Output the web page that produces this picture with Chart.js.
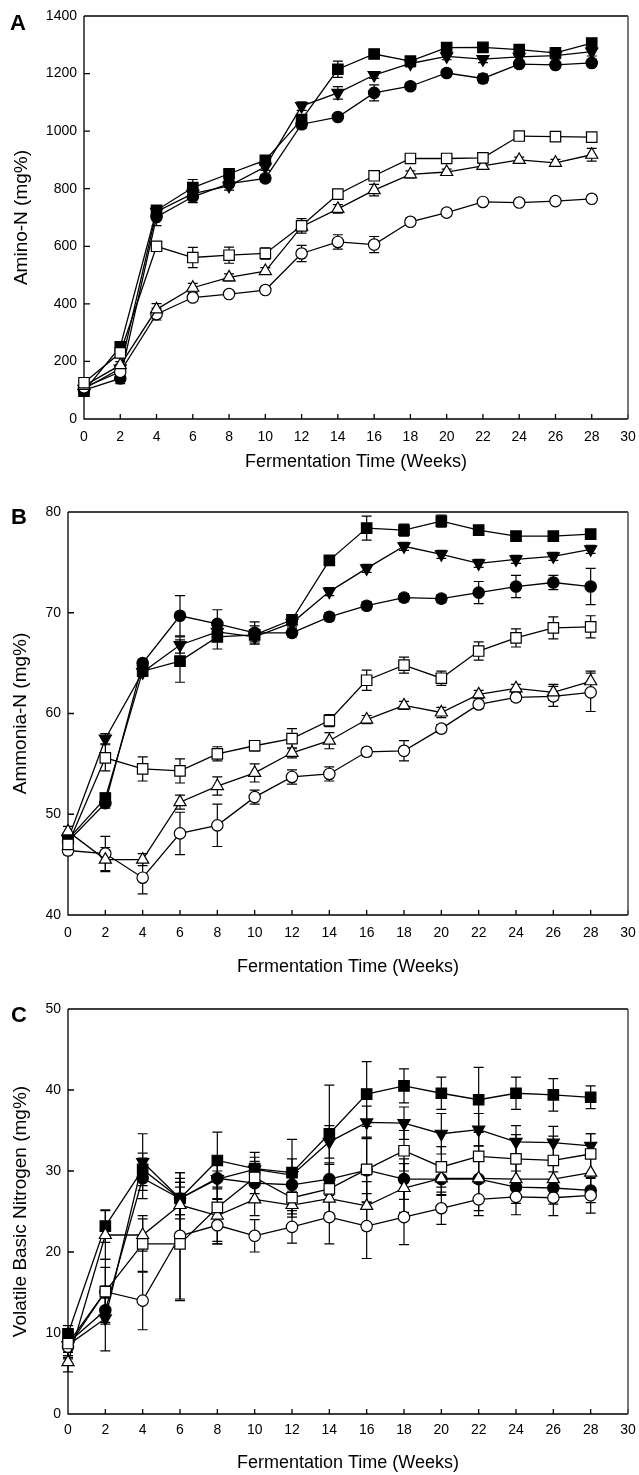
<!DOCTYPE html>
<html><head><meta charset="utf-8">
<script src="https://cdn.jsdelivr.net/npm/chart.js@4.4.1/dist/chart.umd.min.js"></script>
<style>
html,body{margin:0;padding:0;background:#fff;overflow:hidden;width:639px;height:1475px;position:relative;}
canvas{position:absolute;left:0;}
.lbl{position:absolute;font:bold 22px "Liberation Sans",Arial,sans-serif;line-height:22px;color:#000;}
</style></head><body>
<canvas id="cA" width="639" height="473" style="top:0px;width:639px;height:473px"></canvas>
<canvas id="cB" width="639" height="498" style="top:480px;width:639px;height:498px"></canvas>
<canvas id="cC" width="639" height="499" style="top:975px;width:639px;height:499px"></canvas>
<div class="lbl" style="left:10px;top:12px">A</div>
<div class="lbl" style="left:11px;top:506px">B</div>
<div class="lbl" style="left:11px;top:1004px">C</div>
<script>
// ---------- data ----------
const weeks = [0,2,4,6,8,10,12,14,16,18,20,22,24,26,28];
const xTickValues = [0,2,4,6,8,10,12,14,16,18,20,22,24,26,28,30];
const xTitle = 'Fermentation Time (Weeks)';

// Panel A: Amino-N (mg%)
const yTicksA = [0,200,400,600,800,1000,1200,1400];
const A_fSq  = [97,251,725,804,852,899,1040,1215,1268,1243,1290,1291,1283,1272,1306];
const A_fTri = [105,175,720,783,810,876,1087,1133,1195,1235,1260,1250,1258,1262,1276];
const A_fCir = [100,141,702,772,818,836,1024,1049,1133,1156,1202,1183,1233,1230,1237];
const A_oSq  = [126,230,600,561,569,575,671,781,845,905,905,907,983,981,979];
const A_oTri = [115,187,381,456,492,514,668,730,795,850,858,879,900,890,918];
const A_oCir = [110,164,364,422,434,448,575,615,606,685,717,754,752,757,765];
const A_fSqE  = [10,15,15,28,15,12,15,28,15,12,12,12,12,12,15];
const A_fTriE = [10,15,15,15,15,12,15,22,12,12,12,12,12,12,15];
const A_fCirE = [10,18,30,20,12,12,15,12,28,12,12,15,12,12,12];
const A_oSqE  = [12,12,12,35,28,20,25,12,12,12,12,12,10,10,12];
const A_oTriE = [10,12,20,15,12,12,12,15,20,12,10,10,10,12,22];
const A_oCirE = [10,12,20,12,10,10,28,25,28,12,12,10,10,10,10];

// Panel B: Ammonia-N (mg%)
const yTicksB = [40,50,60,70,80];
const B_fSq  = [47.5,51.6,64.2,65.2,67.6,67.8,69.3,75.2,78.4,78.2,79.1,78.2,77.6,77.6,77.8];
const B_fTri = [47.5,57.5,64.1,66.8,68.1,67.6,69.0,72.1,74.4,76.6,75.8,74.9,75.3,75.6,76.3];
const B_fCir = [47.3,51.1,65.0,69.7,68.9,68.0,68.0,69.6,70.7,71.5,71.4,72.0,72.6,73.0,72.6];
const B_oSq  = [47.0,55.6,54.5,54.3,56.0,56.8,57.5,59.3,63.3,64.8,63.5,66.2,67.5,68.5,68.6];
const B_oTri = [48.3,45.5,45.5,51.2,52.8,54.1,56.1,57.3,59.4,60.8,60.1,61.9,62.5,62.1,63.2];
const B_oCir = [46.4,46.1,43.7,48.1,48.9,51.7,53.7,54.0,56.2,56.3,58.5,60.9,61.6,61.7,62.1];
const B_fSqE  = [0.4,0.5,0.4,2.1,1.2,0.9,0.4,0.4,1.2,0.6,0.6,0.4,0.4,0.4,0.4];
const B_fTriE = [0.4,0.5,0.4,0.8,0.5,0.5,0.4,0.4,0.4,0.4,0.4,0.4,0.4,0.4,0.4];
const B_fCirE = [0.4,0.5,0.4,2.0,1.4,1.1,0.4,0.4,0.4,0.4,0.4,1.1,1.1,0.7,1.8];
const B_oSqE  = [0.4,1.3,1.2,1.2,0.7,0.5,1.0,0.6,1.0,0.8,0.7,0.9,0.9,1.1,1.1];
const B_oTriE = [0.5,1.2,0.6,0.7,0.9,0.9,0.5,0.8,0.4,0.4,0.5,0.4,0.4,0.8,1.0];
const B_oCirE = [0.4,1.7,1.6,2.1,2.1,0.7,0.7,0.7,0.4,1.0,0.4,0.4,0.4,1.0,1.9];

// Panel C: Volatile Basic Nitrogen (mg%)
const yTicksC = [0,10,20,30,40,50];
const C_fSq  = [9.9,23.2,30.2,26.6,31.3,30.3,29.8,34.6,39.5,40.5,39.6,38.8,39.6,39.4,39.1];
const C_fTri = [8.5,11.8,31.1,26.6,29.0,30.2,29.5,33.6,36.0,35.9,34.6,35.1,33.6,33.5,33.1];
const C_fCir = [8.8,12.8,29.1,26.6,29.1,28.5,28.3,29.0,30.1,29.0,29.0,29.0,28.0,27.9,27.6];
const C_oSq  = [8.7,15.1,21.0,21.0,25.5,29.2,26.7,27.8,30.2,32.5,30.5,31.8,31.5,31.3,32.1];
const C_oTri = [6.4,22.1,22.1,25.8,24.5,26.5,25.8,26.6,25.7,27.9,29.1,29.1,29.0,29.0,29.8];
const C_oCir = [8.3,15.1,14.0,22.0,23.3,22.0,23.1,24.3,23.2,24.3,25.4,26.5,26.8,26.7,27.0];
const C_fSqE  = [1.0,2.0,2.0,2.0,3.5,2.0,4.1,6.0,4.0,2.1,2.0,4.0,2.0,2.0,1.4];
const C_fTriE = [1.5,4.0,3.5,2.5,2.5,1.5,2.0,2.0,2.0,2.0,2.5,2.0,2.0,2.0,1.5];
const C_fCirE = [1.0,1.5,2.5,2.0,2.5,2.0,2.0,2.0,4.0,2.5,2.0,2.5,2.0,2.0,1.5];
const C_oSqE  = [1.5,4.0,3.5,7.0,4.5,2.0,2.0,3.0,4.0,2.5,2.5,3.0,3.0,3.0,2.5];
const C_oTriE = [1.2,3.0,2.0,4.0,3.5,2.0,1.5,2.0,3.0,3.0,2.0,4.0,2.5,2.5,2.0];
const C_oCirE = [1.5,3.0,3.6,7.8,2.0,2.0,2.0,3.3,4.0,3.4,2.0,2.0,2.2,2.2,2.2];

// ---------- rendering ----------
const FONT = '"Liberation Sans", Arial, Helvetica, sans-serif';

const framePlugin = {
  id: 'frame',
  beforeDatasetsDraw(chart) {
    const {ctx, chartArea: a, scales: {x, y}} = chart;
    ctx.save();
    ctx.strokeStyle = '#000'; ctx.lineWidth = 1.3;
    ctx.beginPath();
    ctx.moveTo(a.left, a.top); ctx.lineTo(a.right, a.top);
    ctx.moveTo(a.left, a.top); ctx.lineTo(a.left, a.bottom); ctx.lineTo(a.right, a.bottom);
    x.ticks.forEach(t => { const px = x.getPixelForValue(t.value); ctx.moveTo(px, a.bottom); ctx.lineTo(px, a.bottom - 5); });
    y.ticks.forEach(t => { const py = y.getPixelForValue(t.value); ctx.moveTo(a.left, py); ctx.lineTo(a.left + 6, py); });
    ctx.stroke();
    ctx.strokeStyle = '#555'; ctx.lineWidth = 1.6;
    ctx.beginPath(); ctx.moveTo(a.right, a.top); ctx.lineTo(a.right, a.bottom); ctx.stroke();
    // error bars
    ctx.strokeStyle = '#000'; ctx.lineWidth = 1.2;
    chart.data.datasets.forEach(ds => {
      const err = ds.errors; if (!err) return;
      ds.data.forEach((p, i) => {
        const e = err[i]; if (!e) return;
        const px = x.getPixelForValue(p.x);
        const y1 = y.getPixelForValue(p.y + e), y2 = y.getPixelForValue(p.y - e);
        ctx.beginPath();
        ctx.moveTo(px, y1); ctx.lineTo(px, y2);
        ctx.moveTo(px - 5, y1); ctx.lineTo(px + 5, y1);
        ctx.moveTo(px - 5, y2); ctx.lineTo(px + 5, y2);
        ctx.stroke();
      });
    });
    ctx.restore();
  }
};

function series(label, vals, errs, style, filled, rot) {
  const r = style === 'rect' ? 7.4 : (style === 'triangle' ? 7.0 : 5.7);
  return {
    label, errors: errs,
    data: weeks.map((w, i) => ({x: w, y: vals[i]})),
    borderColor: '#000', borderWidth: 1.3,
    pointStyle: style, pointRotation: rot || 0,
    pointRadius: r, pointHoverRadius: r,
    pointBackgroundColor: filled ? '#000' : '#fff',
    pointBorderColor: '#000', pointBorderWidth: 1.2,
    tension: 0, fill: false, clip: false
  };
}

function makeChart(id, p) {
  new Chart(document.getElementById(id), {
    type: 'line',
    data: { datasets: [
      series('open square', p.oSq, p.oSqE, 'rect', false),
      series('open triangle', p.oTri, p.oTriE, 'triangle', false),
      series('open circle', p.oCir, p.oCirE, 'circle', false),
      series('filled square', p.fSq, p.fSqE, 'rect', true),
      series('filled inverted triangle', p.fTri, p.fTriE, 'triangle', true, 180),
      series('filled circle', p.fCir, p.fCirE, 'circle', true)
    ]},
    options: {
      responsive: false, animation: false, devicePixelRatio: 1,
      layout: { padding: { top: p.padTop, right: 11, bottom: 0, left: 0 } },
      plugins: { legend: { display: false }, tooltip: { enabled: false } },
      scales: {
        x: {
          type: 'linear', min: 0, max: 30,
          afterBuildTicks: s => { s.ticks = xTickValues.map(v => ({value: v})); },
          afterFit: s => { s.height = p.xh; s.paddingLeft = 0; s.paddingRight = 0; },
          ticks: { padding: p.xPad, color: '#000', font: { family: FONT, size: 14 }, maxRotation: 0, autoSkip: false,
                   callback: v => String(v) },
          grid: { display: false, drawTicks: false }, border: { display: false },
          title: { display: true, text: xTitle, color: '#000', font: { family: FONT, size: 18 }, padding: { top: 0, bottom: 0 } }
        },
        y: {
          type: 'linear', min: p.yTicks[0], max: p.yTicks[p.yTicks.length - 1],
          afterBuildTicks: s => { s.ticks = p.yTicks.map(v => ({value: v})); },
          afterFit: s => { s.width = p.yw; s.paddingTop = 0; s.paddingBottom = 0; },
          ticks: { padding: 7, color: '#000', font: { family: FONT, size: 14 }, callback: v => String(v) },
          grid: { display: false, drawTicks: false }, border: { display: false },
          title: { display: true, text: p.yTitle, color: '#000', font: { family: FONT, size: 19 }, padding: { top: p.ytPad, bottom: 0 } }
        }
      }
    },
    plugins: [framePlugin]
  });
}

makeChart('cA', { yTicks: yTicksA, yTitle: 'Amino-N (mg%)', padTop: 16, xh: 54, yw: 84, xPad: 10, ytPad: 10,
  fSq: A_fSq, fTri: A_fTri, fCir: A_fCir, oSq: A_oSq, oTri: A_oTri, oCir: A_oCir,
  fSqE: A_fSqE, fTriE: A_fTriE, fCirE: A_fCirE, oSqE: A_oSqE, oTriE: A_oTriE, oCirE: A_oCirE });
makeChart('cB', { yTicks: yTicksB, yTitle: 'Ammonia-N (mg%)', padTop: 32, xh: 63, yw: 68, xPad: 10, ytPad: 9,
  fSq: B_fSq, fTri: B_fTri, fCir: B_fCir, oSq: B_oSq, oTri: B_oTri, oCir: B_oCir,
  fSqE: B_fSqE, fTriE: B_fTriE, fCirE: B_fCirE, oSqE: B_oSqE, oTriE: B_oTriE, oCirE: B_oCirE });
makeChart('cC', { yTicks: yTicksC, yTitle: 'Volatile Basic Nitrogen (mg%)', padTop: 34, xh: 60, yw: 68, xPad: 8, ytPad: 9,
  fSq: C_fSq, fTri: C_fTri, fCir: C_fCir, oSq: C_oSq, oTri: C_oTri, oCir: C_oCir,
  fSqE: C_fSqE, fTriE: C_fTriE, fCirE: C_fCirE, oSqE: C_oSqE, oTriE: C_oTriE, oCirE: C_oCirE });
</script>
</body></html>
